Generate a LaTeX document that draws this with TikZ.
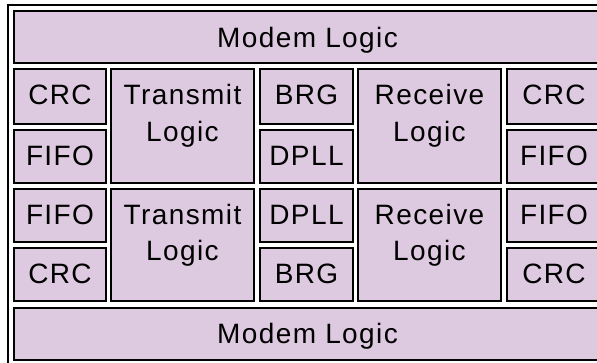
\documentclass[tikz,border=0pt]{standalone}
\usepackage{fontspec}
\setmainfont[LetterSpace=5]{Liberation Sans}
\definecolor{lav}{RGB}{222,202,224}
\newcommand\mybox[5]{\node[box, anchor=north west, minimum width={#3-#1}, minimum height={#4-#2}] (#5) at (#1,#2) {};}
\begin{document}
\begin{tikzpicture}[x=1pt,y=-1pt,
  box/.style={draw=black, fill=lav, line width=2pt, inner sep=0pt, outer sep=0pt},
  lbl/.style={font=\fontsize{28}{33}\selectfont, inner sep=0pt, text height=20pt, text depth=0pt}]
\useasboundingbox (0,0) rectangle (597,362);
\clip (0,0) rectangle (597,362);
\draw[line width=2pt] (8,5) rectangle (607,368);
% boxes
\mybox{14}{11}{601}{63}{mtop}
\mybox{14}{69}{106}{124}{crcA}
\mybox{14}{130}{106}{183}{fifoA}
\mybox{111}{69}{254}{183}{txA}
\mybox{260}{69}{353}{124}{brgA}
\mybox{260}{130}{353}{183}{dpllA}
\mybox{358}{69}{501}{183}{rxA}
\mybox{507}{69}{601}{124}{crcB}
\mybox{507}{130}{601}{183}{fifoB}
\mybox{14}{189}{106}{242}{fifoC}
\mybox{14}{248}{106}{301}{crcC}
\mybox{111}{189}{254}{301}{txB}
\mybox{260}{189}{353}{242}{dpllB}
\mybox{260}{248}{353}{301}{brgB}
\mybox{358}{189}{501}{301}{rxB}
\mybox{507}{189}{601}{242}{fifoD}
\mybox{507}{248}{601}{301}{crcD}
\mybox{14}{308}{601}{360}{mbot}
% labels
\node[lbl] (l1) at (307.5,37) {Modem Logic};
\node[lbl] (l2) at (60,94.5) {CRC};
\node[lbl] (l3) at (60,155) {FIFO};
\node[lbl] (l4) at (182.5,94.5) {Transmit};
\node[lbl] (l5) at (182.5,131) {Logic};
\node[lbl] (l6) at (306.5,94.5) {BRG};
\node[lbl] (l7) at (306.5,155) {DPLL};
\node[lbl] (l8) at (429.5,94.5) {Receive};
\node[lbl] (l9) at (429.5,131) {Logic};
\node[lbl] (l10) at (554,94.5) {CRC};
\node[lbl] (l11) at (554,155) {FIFO};
\node[lbl] (l12) at (60,214) {FIFO};
\node[lbl] (l13) at (60,273.5) {CRC};
\node[lbl] (l14) at (182.5,214) {Transmit};
\node[lbl] (l15) at (182.5,250) {Logic};
\node[lbl] (l16) at (306.5,214) {DPLL};
\node[lbl] (l17) at (306.5,273.5) {BRG};
\node[lbl] (l18) at (429.5,214) {Receive};
\node[lbl] (l19) at (429.5,250) {Logic};
\node[lbl] (l20) at (554,214) {FIFO};
\node[lbl] (l21) at (554,273.5) {CRC};
\node[lbl] (l22) at (307.5,333) {Modem Logic};
\end{tikzpicture}
\end{document}
